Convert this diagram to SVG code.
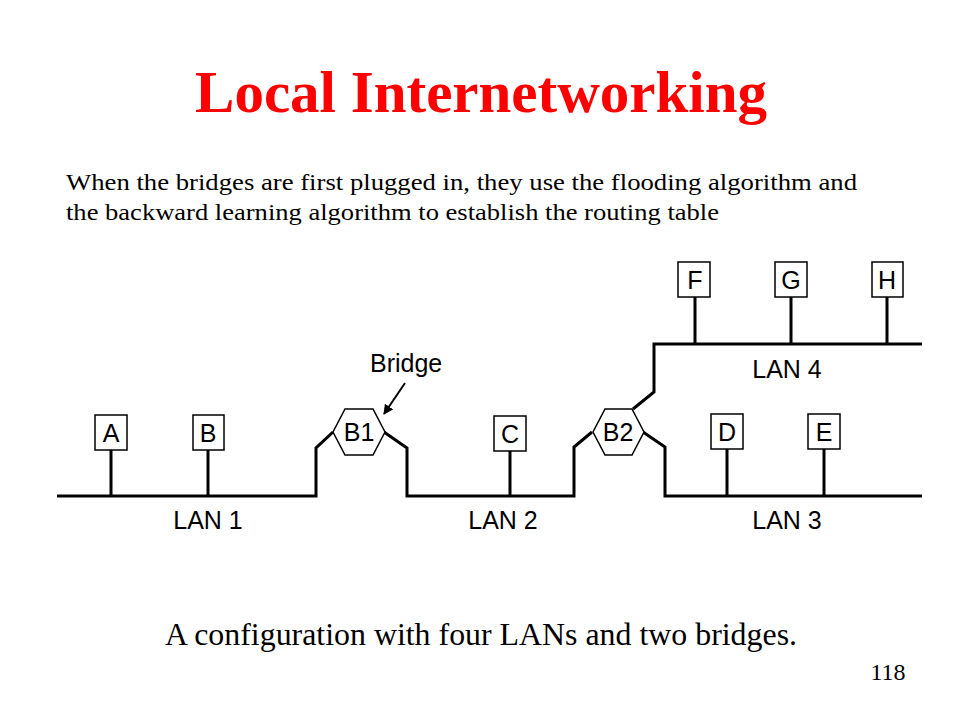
<svg xmlns="http://www.w3.org/2000/svg" width="960" height="720" viewBox="0 0 960 720">
<style>
.title{font-family:"Liberation Serif",serif;font-weight:bold;font-size:59px;fill:#ff0000}
.body{font-family:"Liberation Serif",serif;font-size:24px;fill:#000}
.cap{font-family:"Liberation Serif",serif;font-size:31px;fill:#000}
.lbl{font-family:"Liberation Sans",Arial,sans-serif;font-size:25px;fill:#000}
.box{fill:#fff;stroke:#000;stroke-width:1.5}
.wire{fill:none;stroke:#000;stroke-width:3}
</style>
<defs>
<marker id="ah" markerWidth="10" markerHeight="10" refX="9" refY="5" orient="auto" markerUnits="userSpaceOnUse" viewBox="0 0 10 10">
<path d="M0,0 L10,5 L0,10 Z" fill="#000"/>
</marker>
</defs>
<rect width="960" height="720" fill="#fff"/>
<text class="title" x="481" y="112" text-anchor="middle">Local Internetworking</text>
<text class="body" x="66" y="190" textLength="791" lengthAdjust="spacingAndGlyphs">When the bridges are first plugged in, they use the flooding algorithm and</text>
<text class="body" x="66" y="220" textLength="653" lengthAdjust="spacingAndGlyphs">the backward learning algorithm to establish the routing table</text>
<g id="connectors">
<path class="wire" d="M57,496 H316 V448 L333,432"/>
<path class="wire" d="M384,432 L407,448 V496 H574 V447 L592,432"/>
<path class="wire" d="M643,432 L665,447 V496 H922"/>
<path class="wire" d="M633,409 L654,392 V344 H922"/>
<line class="wire" x1="111" y1="450" x2="111" y2="496"/>
<line class="wire" x1="208" y1="450" x2="208" y2="496"/>
<line class="wire" x1="510" y1="451" x2="510" y2="496"/>
<line class="wire" x1="727" y1="449" x2="727" y2="496"/>
<line class="wire" x1="824" y1="449" x2="824" y2="496"/>
<line class="wire" x1="695" y1="297" x2="695" y2="344"/>
<line class="wire" x1="791" y1="297" x2="791" y2="344"/>
<line class="wire" x1="887" y1="297" x2="887" y2="344"/>
<line x1="405" y1="383" x2="384" y2="414" stroke="#000" stroke-width="2" marker-end="url(#ah)"/>
</g>
<g id="A"><rect class="box" x="95" y="415" width="32" height="35"/><text class="lbl" x="111" y="442" text-anchor="middle">A</text></g>
<g id="B"><rect class="box" x="193" y="415" width="31" height="35"/><text class="lbl" x="208" y="442" text-anchor="middle">B</text></g>
<g id="C"><rect class="box" x="494" y="416" width="32" height="35"/><text class="lbl" x="510" y="443" text-anchor="middle">C</text></g>
<g id="D"><rect class="box" x="711" y="414" width="32" height="35"/><text class="lbl" x="727" y="441" text-anchor="middle">D</text></g>
<g id="E"><rect class="box" x="808" y="414" width="32" height="35"/><text class="lbl" x="824" y="441" text-anchor="middle">E</text></g>
<g id="F"><rect class="box" x="678" y="262" width="32" height="35"/><text class="lbl" x="695" y="289" text-anchor="middle">F</text></g>
<g id="G"><rect class="box" x="775" y="262" width="32" height="35"/><text class="lbl" x="791" y="289" text-anchor="middle">G</text></g>
<g id="H"><rect class="box" x="872" y="262" width="31" height="35"/><text class="lbl" x="887" y="289" text-anchor="middle">H</text></g>
<g id="B1"><polygon class="box" points="345,409 373,409 385,432 373,455 345,455 333,432"/><text class="lbl" x="359" y="441" text-anchor="middle">B1</text></g>
<g id="B2"><polygon class="box" points="605,409 632,409 644,432 632,455 605,455 593,432"/><text class="lbl" x="618" y="441" text-anchor="middle">B2</text></g>
<g id="labels">
<text class="lbl" x="370" y="372">Bridge</text>
<text class="lbl" x="208" y="529" text-anchor="middle">LAN 1</text>
<text class="lbl" x="503" y="529" text-anchor="middle">LAN 2</text>
<text class="lbl" x="787" y="529" text-anchor="middle">LAN 3</text>
<text class="lbl" x="787" y="378" text-anchor="middle">LAN 4</text>
</g>
<text class="cap" x="165" y="645" textLength="632" lengthAdjust="spacingAndGlyphs">A configuration with four LANs and two bridges.</text>
<text class="body" x="888" y="680" text-anchor="middle" font-size="16">118</text>
</svg>
